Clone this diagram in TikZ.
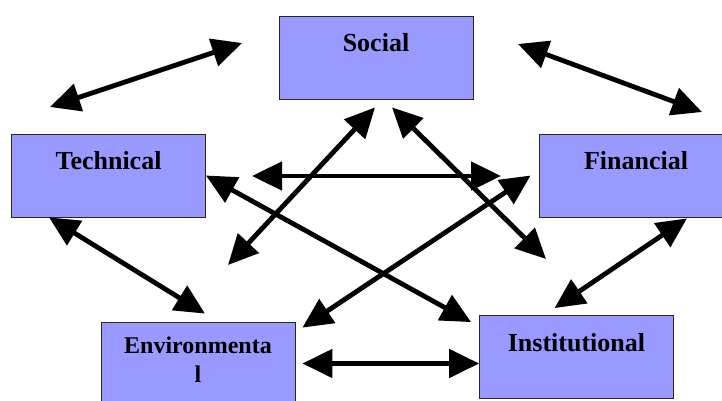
\documentclass[tikz,border=0pt]{standalone}
\usepackage{fontspec}
\setmainfont{Liberation Serif}
\usetikzlibrary{arrows.meta}
\definecolor{boxblue}{RGB}{153,153,255}
\begin{document}
\begin{tikzpicture}[x=1pt, y=-1pt,
		box/.style={draw=black!85, line width=0.8pt, fill=boxblue, minimum width=194pt, minimum height=83pt, inner sep=0pt},
		lbl/.style={font=\fontsize{26}{30}\selectfont\bfseries, anchor=base, inner sep=0pt},
		link/.style={line width=4.8pt, {Triangle[length=30pt,width=28pt]}-{Triangle[length=30pt,width=28pt]}}]
		
		\clip (0,0) rectangle (722,401);
		
		\node[box] (social) at (376,57.5) {};
		\node[box] (technical) at (108.5,175.5) {};
		\node[box] (financial) at (636,175.5) {};
		\node[box] (environmental) at (198,363.5) {};
		\node[box] (institutional) at (576.5,357) {};
		
		\node[lbl] (socialtxt) at ([yshift=-36pt]social.north) {Social};
		\node[lbl] (technicaltxt) at ([yshift=-36pt]technical.north) {Technical};
		\node[lbl] (financialtxt) at ([yshift=-36pt]financial.north) {Financial};
		\node[lbl] (institutionaltxt) at ([yshift=-36pt]institutional.north) {Institutional};
		\node[lbl, font=\fontsize{24}{29}\selectfont\bfseries, align=center] (environmentaltxt) at ([yshift=-61pt]environmental.north) {Environmenta\\l};
		
		\coordinate (upleft1) at (50,107);
		\coordinate (upleft2) at (242,43);
		\coordinate (upright1) at (518,44);
		\coordinate (upright2) at (702,112);
		\coordinate (across1) at (252,176);
		\coordinate (across2) at (501,176);
		\coordinate (downleft) at (228,265);
		\coordinate (downright) at (546,259);
		
		\draw[link] (upleft1) -- (upleft2);
		\draw[link] (upright1) -- (upright2);
		\draw[link] (across1) -- (across2);
		\draw[link] ([shift={(-1,8)}]social.south) -- (downleft);
		\draw[link] ([shift={(16,8)}]social.south) -- (downright);
		\draw[link] (technical.east) -- ([shift={(-8,7)}]institutional.north west);
		\draw[link] ([shift={(7,6)}]environmental.north east) -- ([shift={(-8,0)}]financial.west);
		\draw[link] ([shift={(38,0)}]technical.south west) -- ([shift={(7,-8)}]environmental.north);
		\draw[link] ([shift={(51,1)}]financial.south) -- ([shift={(-22,-7)}]institutional.north);
		\draw[link] ([shift={(7,0)}]environmental.east) -- (environmental.east -| institutional.west);
		
	\end{tikzpicture}
\end{document}
